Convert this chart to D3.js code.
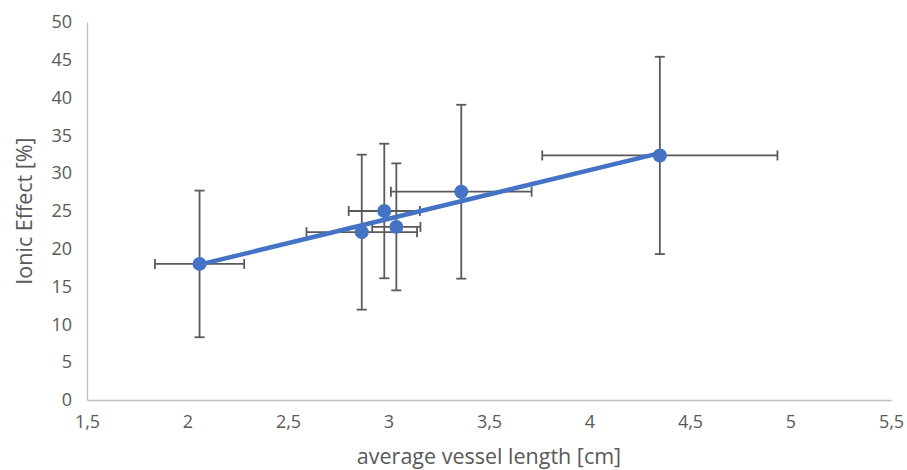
<!DOCTYPE html>
<html>
<head>
<meta charset="utf-8">
<script src="https://cdn.jsdelivr.net/npm/d3@7"></script>
<style>
  body { margin: 0; background: #fff; }
  text { font-family: "Open Sans", sans-serif; fill: #595959; }
</style>
</head>
<body>
<div id="chart-area"></div>
<script>
// Data
const vesselLength = [2.06, 2.867, 2.979, 3.039, 3.362, 4.35]
const ionicEffect = [18.0, 22.2, 25.0, 22.9, 27.55, 32.35]
const xError = [0.222, 0.275, 0.177, 0.12, 0.35, 0.585]
const yError = [9.7, 10.25, 8.9, 8.4, 11.5, 13.05]
const xTicks = [1.5, 2, 2.5, 3, 3.5, 4, 4.5, 5, 5.5]
const yTicks = [0, 5, 10, 15, 20, 25, 30, 35, 40, 45, 50]

const W = 907, H = 470
const MARGIN = { LEFT: 87, RIGHT: 16, TOP: 22, BOTTOM: 70 }

const svg = d3.select("#chart-area").append("svg")
  .attr("width", W)
  .attr("height", H)

const x = d3.scaleLinear().domain([1.5, 5.5]).range([MARGIN.LEFT, W - MARGIN.RIGHT])
const y = d3.scaleLinear().domain([0, 50]).range([H - MARGIN.BOTTOM, MARGIN.TOP])

const fmt = d => d3.format("")(d).replace(".", ",")

// X axis
const xg = svg.append("g")
  .attr("transform", `translate(0,${y(0)})`)
  .call(d3.axisBottom(x).tickValues(xTicks).tickFormat(fmt).tickSize(0).tickPadding(15))
xg.select(".domain").attr("stroke", "#c0c0c0").attr("stroke-width", 1.3)
xg.selectAll("text").style("font-size", "18px").attr("fill", "#595959")

// Y axis
const yg = svg.append("g")
  .attr("transform", `translate(${x(1.5)},0)`)
  .call(d3.axisLeft(y).tickValues(yTicks).tickSize(0).tickPadding(15))
yg.select(".domain").attr("stroke", "#c0c0c0").attr("stroke-width", 1.3)
yg.selectAll("text").style("font-size", "18px").attr("fill", "#595959")

// Axis titles
svg.append("text")
  .attr("x", (x(1.5) + x(5.5)) / 2)
  .attr("y", 464)
  .attr("text-anchor", "middle")
  .style("font-size", "21.5px")
  .text("average vessel length [cm]")

svg.append("text")
  .attr("transform", `translate(32,${(y(0) + y(50)) / 2}) rotate(-90)`)
  .attr("text-anchor", "middle")
  .style("font-size", "21.5px")
  .text("Ionic Effect [%]")

const data = vesselLength.map((v, i) => ({ x: v, y: ionicEffect[i], ex: xError[i], ey: yError[i] }))

// Error bars
const CAP = 5
const eb = svg.append("g").attr("stroke", "#5a5a5a").attr("stroke-width", 1.8).attr("fill", "none")
data.forEach(d => {
  eb.append("line").attr("x1", x(d.x)).attr("x2", x(d.x)).attr("y1", y(d.y - d.ey)).attr("y2", y(d.y + d.ey))
  eb.append("line").attr("x1", x(d.x) - CAP).attr("x2", x(d.x) + CAP).attr("y1", y(d.y - d.ey)).attr("y2", y(d.y - d.ey))
  eb.append("line").attr("x1", x(d.x) - CAP).attr("x2", x(d.x) + CAP).attr("y1", y(d.y + d.ey)).attr("y2", y(d.y + d.ey))
  eb.append("line").attr("x1", x(d.x - d.ex)).attr("x2", x(d.x + d.ex)).attr("y1", y(d.y)).attr("y2", y(d.y))
  eb.append("line").attr("x1", x(d.x - d.ex)).attr("x2", x(d.x - d.ex)).attr("y1", y(d.y) - CAP).attr("y2", y(d.y) + CAP)
  eb.append("line").attr("x1", x(d.x + d.ex)).attr("x2", x(d.x + d.ex)).attr("y1", y(d.y) - CAP).attr("y2", y(d.y) + CAP)
})

// Linear trendline (least squares) across the data range
const mx = d3.mean(vesselLength), my = d3.mean(ionicEffect)
const slope = d3.sum(data, d => (d.x - mx) * (d.y - my)) / d3.sum(data, d => (d.x - mx) ** 2)
const icpt = my - slope * mx
const [x0, x1] = d3.extent(vesselLength)
svg.append("path")
  .datum([x0, x1])
  .attr("d", d3.line().x(v => x(v)).y(v => y(icpt + slope * v)))
  .attr("stroke", "#4472c4")
  .attr("stroke-width", 4.5)
  .attr("stroke-linecap", "round")
  .attr("fill", "none")

// Markers
svg.selectAll(".dot")
  .data(data)
  .join("circle")
  .attr("class", "dot")
  .attr("cx", d => x(d.x))
  .attr("cy", d => y(d.y))
  .attr("r", 7)
  .attr("fill", "#4472c4")
</script>
</body>
</html>
